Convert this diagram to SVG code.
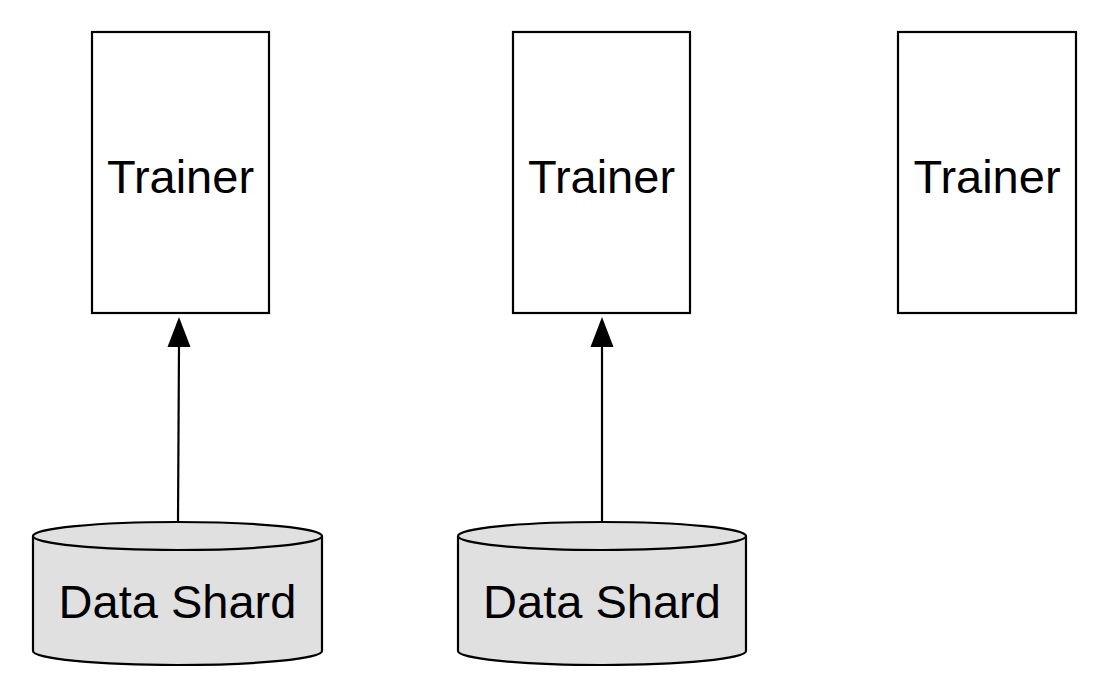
<svg xmlns="http://www.w3.org/2000/svg" width="1109" height="699" viewBox="0 0 1109 699">
<style>
.box{fill:#fff;stroke:#000;stroke-width:2.2}
.cyl{fill:#e0e0e0;stroke:#000;stroke-width:2.2}
.lbl{font-family:"Liberation Sans",Arial,sans-serif;font-size:47px;fill:#000;text-anchor:middle}
.conn{stroke:#000;stroke-width:2.2;fill:none}
</style>
<defs>
<marker id="ah" markerWidth="23" markerHeight="30" viewBox="0 0 30 23" refX="30" refY="11.5" orient="auto" markerUnits="userSpaceOnUse">
<path d="M0,0 L30,11.5 L0,23 Z" fill="#000"/>
</marker>
</defs>
<g id="trainer1"><rect class="box" x="92" y="32" width="177" height="281"/><text class="lbl" x="180.5" y="193">Trainer</text></g>
<g id="trainer2"><rect class="box" x="513" y="32" width="177" height="281"/><text class="lbl" x="601.5" y="193">Trainer</text></g>
<g id="trainer3"><rect class="box" x="898" y="32" width="178" height="281"/><text class="lbl" x="987" y="193">Trainer</text></g>
<g id="shard1"><path class="cyl" d="M33,536 L33,651 A144.5,14 0 0 0 322,651 L322,536 A144.5,14 0 0 0 33,536 Z"/><path class="cyl" d="M33,536 A144.5,14 0 0 0 322,536"/><text class="lbl" x="177.5" y="618">Data Shard</text></g>
<g id="shard2"><path class="cyl" d="M458,536 L458,651 A144,14 0 0 0 746,651 L746,536 A144,14 0 0 0 458,536 Z"/><path class="cyl" d="M458,536 A144,14 0 0 0 746,536"/><text class="lbl" x="602" y="618">Data Shard</text></g>
<g id="connectors">
<line class="conn" x1="178" y1="521" x2="179" y2="345"/>
<path d="M179,317 L190.5,347 L167.5,347 Z" fill="#000"/>
<line class="conn" x1="602" y1="521" x2="602" y2="345"/>
<path d="M602,317 L613.5,347 L590.5,347 Z" fill="#000"/>
</g>
</svg>
